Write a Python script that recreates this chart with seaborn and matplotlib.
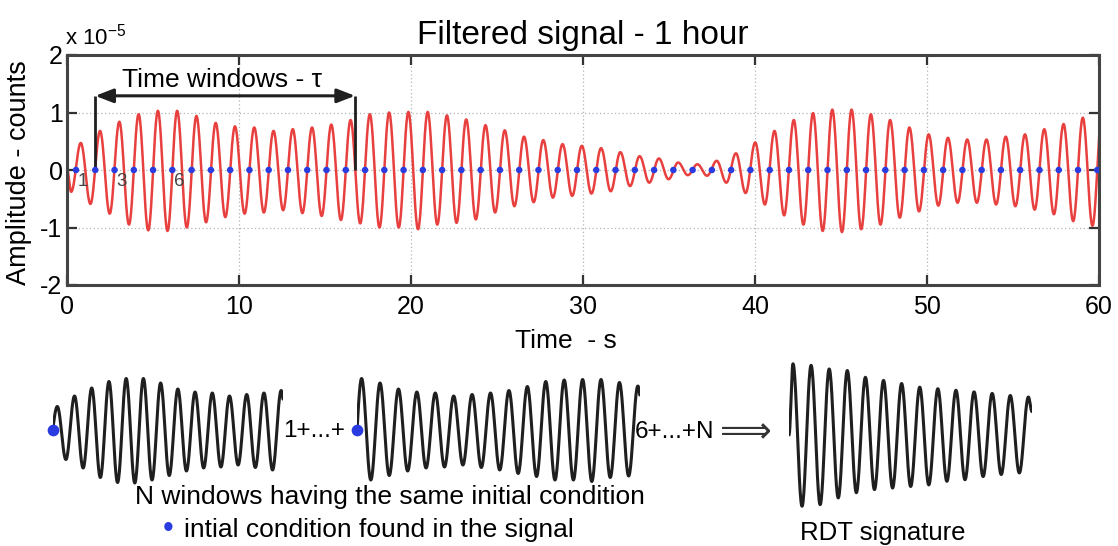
import numpy as np
import pandas as pd
import matplotlib
matplotlib.use("Agg")
import matplotlib.pyplot as plt
import seaborn as sns

# ---------------- data ----------------
x_ticks = [0, 10, 20, 30, 40, 50, 60]
y_ticks = [-2, -1, 0, 1, 2]
period = 1.12            # s, one oscillation
first_peak = 0.82        # s
first_dot = 0.54         # s, first up-crossing (initial condition)
n_dots = 54
start_value = 0.05       # signal value at t = 0 (x 1e-5)

# peak (upper) amplitude of each oscillation, x 1e-5
peak_amp = [0.47, 0.68, 0.84, 0.97, 1.03, 1.03, 0.94, 0.82, 0.76, 0.74,
            0.68, 0.71, 0.74, 0.79, 0.87, 0.97, 1.00, 1.01, 1.01, 0.95,
            0.88, 0.78, 0.69, 0.58, 0.52, 0.45, 0.42, 0.38, 0.31, 0.24,
            0.20, 0.13, 0.10, 0.16, 0.29, 0.48, 0.68, 0.87, 0.99, 1.05,
            1.05, 0.97, 0.87, 0.74, 0.62, 0.56, 0.53, 0.53, 0.58, 0.62,
            0.71, 0.80, 0.91, 1.00]
# trough preceding each peak, x 1e-5
trough_amp = [-0.38, -0.59, -0.76, -0.95, -1.05, -1.06, -1.00, -0.91, -0.82, -0.76,
              -0.74, -0.70, -0.75, -0.80, -0.87, -0.93, -1.00, -1.00, -1.03, -0.95,
              -0.92, -0.86, -0.74, -0.63, -0.56, -0.48, -0.45, -0.41, -0.37, -0.28,
              -0.22, -0.16, -0.09, -0.10, -0.22, -0.40, -0.60, -0.79, -0.95, -1.06,
              -1.08, -1.03, -0.95, -0.83, -0.72, -0.62, -0.57, -0.57, -0.60, -0.63,
              -0.69, -0.77, -0.89, -0.97]

labelled_dots = [1, 3, 6]
tau_start, tau_end, tau_level = 1.66, 16.76, 1.29

window1_end = 15.5      # s, end of the first drawn window (starts at dot 1)
window6_end = 23.35     # s, end of the second drawn window (starts at dot 6)

# RDT signature: alternating peaks / troughs (relative units)
rdt_peak = [1.37, 1.34, 1.27, 1.24, 1.11, 1.05, 0.99, 0.92, 0.89, 0.86,
            0.83, 0.80, 0.76, 0.73]
rdt_trough = [-1.37, -1.34, -1.21, -1.11, -1.05, -1.02, -0.99, -0.96, -0.89,
              -0.86, -0.80, -0.76, -0.73]

# ---------------- helpers ----------------
def through_extremes(times, values, n=24):
    """draw a smooth half-cosine stroke between successive extremes"""
    ts, ys = [], []
    for i in range(len(times) - 1):
        u = np.linspace(0, 1, n, endpoint=False)
        ts.append(times[i] + (times[i + 1] - times[i]) * u)
        ys.append(values[i] + (values[i + 1] - values[i]) * (1 - np.cos(np.pi * u)) / 2)
    ts.append([times[-1]])
    ys.append([values[-1]])
    return np.concatenate(ts), np.concatenate(ys)

# extremes of the signal
ext_t, ext_v = [0.0], [start_value]
for k, (p, tr) in enumerate(zip(peak_amp, trough_amp)):
    tp = first_peak + k * period
    ext_t += [tp - period / 2, tp]
    ext_v += [tr, p]
sig_t, sig_y = through_extremes(ext_t, ext_v)
signal = pd.DataFrame({"t": sig_t, "y": sig_y})
dots = pd.DataFrame({"t": first_dot + period * np.arange(n_dots), "y": 0.0})

# RDT extremes (time in oscillation units)
r_t, r_v = [-0.22], [0.0]
for k, p in enumerate(rdt_peak):
    r_t.append(k); r_v.append(p)
    if k < len(rdt_trough):
        r_t.append(k + 0.5); r_v.append(rdt_trough[k])
r_t.append(13.2); r_v.append(0.45)
rt, ry = through_extremes(r_t, r_v)
rdt = pd.DataFrame({"t": rt, "y": ry})

# ---------------- style ----------------
sns.set_theme(style="white")
plt.rcParams["font.family"] = ["Liberation Sans", "DejaVu Sans"]
plt.rcParams["mathtext.fontset"] = "custom"
plt.rcParams["mathtext.rm"] = "Liberation Sans"
plt.rcParams["mathtext.it"] = "Liberation Sans:italic"
plt.rcParams["axes.unicode_minus"] = False
plt.rcParams["text.color"] = "black"

RED = "#e8403f"
BLUE = "#2a3ce0"
INK = "#1f1f1f"

W, H = 1118, 546
fig = plt.figure(figsize=(W / 100, H / 100), dpi=100)

def px_axes(x0, y0, x1, y1):
    return fig.add_axes([x0 / W, 1 - y1 / H, (x1 - x0) / W, (y1 - y0) / H])

# ---------------- main plot ----------------
ax = px_axes(66.7, 55, 1099, 285)
sns.lineplot(data=signal, x="t", y="y", ax=ax, color=RED, lw=1.8,
             sort=False, estimator=None)
sns.scatterplot(data=dots, x="t", y="y", ax=ax, color=BLUE, s=22,
                edgecolor="none", zorder=4)
ax.set_xlim(0, 60)
ax.set_ylim(-2, 2)
ax.set_xticks(x_ticks)
ax.set_yticks(y_ticks)
ax.grid(True, ls=(0, (1, 2)), color="#b5b5b5", lw=0.9)
ax.tick_params(direction="in", length=7, width=1.6, top=True, right=True,
               bottom=True, left=True, labelsize=18, color="#333333",
               labelcolor="black")
ax.tick_params(axis="x", pad=7)
ax.tick_params(axis="y", pad=3)
for s in ax.spines.values():
    s.set_color("#444444")
    s.set_linewidth(2.2)

ax.set_title("Filtered signal - 1 hour", fontsize=24, pad=8, color="black")
ax.set_xlabel("Time  - s", fontsize=19, color="black")
ax.xaxis.set_label_coords(0.484, -0.19)
ax.xaxis.label.set_va("top")
ax.set_ylabel("Amplitude - counts", fontsize=19.5, color="black")
ax.yaxis.set_label_coords(-0.034, 0.49)

fig.text(65 / W, 1 - 45 / H, r"x 10$^{-5}$", fontsize=16, va="baseline",
         ha="left")

# dot numbers
for n in labelled_dots:
    ax.text(dots["t"][n - 1] + 0.12, -0.06, str(n), fontsize=13.5, color="#444444",
            ha="left", va="top")

# time window arrow
ax.vlines([tau_start, tau_end], 0, tau_level, color=INK, lw=2)
ax.annotate("", xy=(tau_start, tau_level), xytext=(tau_end, tau_level),
            arrowprops=dict(arrowstyle="<|-|>,head_length=0.9,head_width=0.35",
                            color=INK, lw=2.2, shrinkA=0, shrinkB=0))
ax.text((tau_start + tau_end) / 2 - 0.2, tau_level + 0.06, "Time windows - \u03c4",
        fontsize=19, ha="center", va="bottom")

# ---------------- bottom schematic ----------------
def window(x0, x1, yc, t0, t1, scale=50, lim=1.3, dot=True):
    wax = px_axes(x0, yc - lim * scale, x1, yc + lim * scale)
    part = signal[(signal["t"] >= t0) & (signal["t"] <= t1)]
    sns.lineplot(data=part, x="t", y="y", ax=wax, color=INK, lw=2.2,
                 sort=False, estimator=None)
    if dot:
        wax.scatter([t0], [0], s=55, color=BLUE, zorder=5, clip_on=False)
    wax.set_xlim(t0, t1)
    wax.set_ylim(-lim, lim)
    wax.axis("off")
    return wax

window(53, 283, 430, dots["t"][0], window1_end)
window(357, 640, 430, dots["t"][5], window6_end)

rax = px_axes(789, 435 - 1.45 * 52, 1032, 435 + 1.45 * 52)
sns.lineplot(data=rdt, x="t", y="y", ax=rax, color=INK, lw=2.2,
             sort=False, estimator=None)
rax.set_xlim(r_t[0], r_t[-1])
rax.set_ylim(-1.45, 1.45)
rax.axis("off")

fig.text(283 / W, 1 - 431 / H, "1+...+", fontsize=17.5, va="center", ha="left")
fig.text(635 / W, 1 - 432 / H, "6+...+N", fontsize=17.5, va="center", ha="left")
fig.text(720 / W, 1 - 432 / H, "\u27f9", fontsize=26, va="center", ha="left",
         family=["DejaVu Sans", "Noto Sans"], color="#333333")
fig.text(390 / W, 1 - 497 / H, "N windows having the same initial condition",
         fontsize=19, ha="center", va="center")
fig.text(168 / W, 1 - 529 / H, "\u2022", fontsize=22, color=BLUE, ha="center",
         va="center")
fig.text(184 / W, 1 - 530 / H, "intial condition found in the signal",
         fontsize=19, ha="left", va="center")
fig.text(883 / W, 1 - 533 / H, "RDT signature", fontsize=18.5, ha="center",
         va="center")

fig.savefig("out.png", dpi=100)
